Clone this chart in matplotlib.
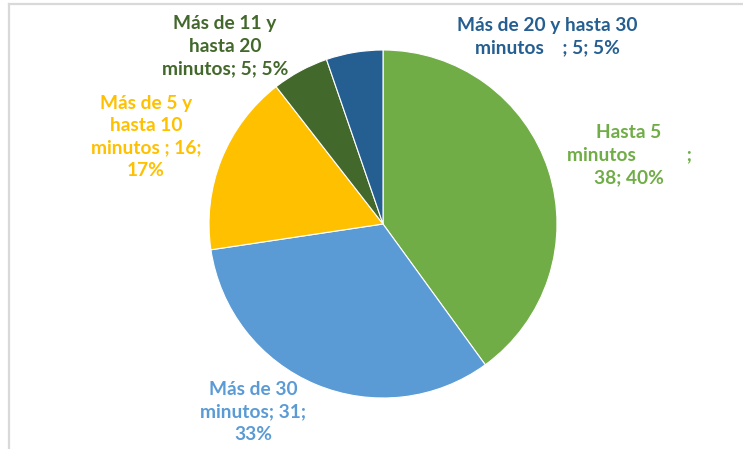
import matplotlib
matplotlib.use("Agg")
import matplotlib.pyplot as plt
from matplotlib.lines import Line2D

# data
labels = ["Hasta 5\nminutos           ;\n38; 40%",
          "Más de 30\nminutos; 31;\n33%",
          "Más de 5 y\nhasta 10\nminutos ; 16;\n17%",
          "Más de 11 y\nhasta 20\nminutos; 5; 5%",
          "Más de 20 y hasta 30\nminutos    ; 5; 5%"]
values = [38, 31, 16, 5, 5]
colors = ["#70AD47", "#5B9BD5", "#FFC000", "#43682B", "#255E91"]
# label centres in pixels (x, y from top)
label_pos = [(629, 155), (253, 412), (146, 137), (225, 46), (547, 37)]

W, H = 743, 449
fig = plt.figure(figsize=(W / 100, H / 100), dpi=100)
ax = fig.add_axes([0, 0, 1, 1])
ax.set_xlim(0, W)
ax.set_ylim(0, H)
ax.set_aspect("equal")
ax.axis("off")

ax.pie(values, colors=colors, startangle=90, counterclock=False,
       center=(383, H - 224), radius=174,
       wedgeprops=dict(edgecolor="white", linewidth=0.8))
ax.set_xlim(0, W)
ax.set_ylim(0, H)

for lab, (px, py), c in zip(labels, label_pos, colors):
    ax.text(px, H - py, lab, color=c, ha="center", va="center",
            fontsize=13.8, fontweight="bold", family=["Lato", "DejaVu Sans"],
            linespacing=1.38)

# frame lines of the chart area
fig.add_artist(Line2D([9 / W, 1], [1 - 3.5 / H, 1 - 3.5 / H], color="#d9d9d9", lw=1.6))
fig.add_artist(Line2D([9 / W, 9 / W], [0, 1 - 3.5 / H], color="#d9d9d9", lw=1.6))

fig.savefig("out.png", dpi=100)
